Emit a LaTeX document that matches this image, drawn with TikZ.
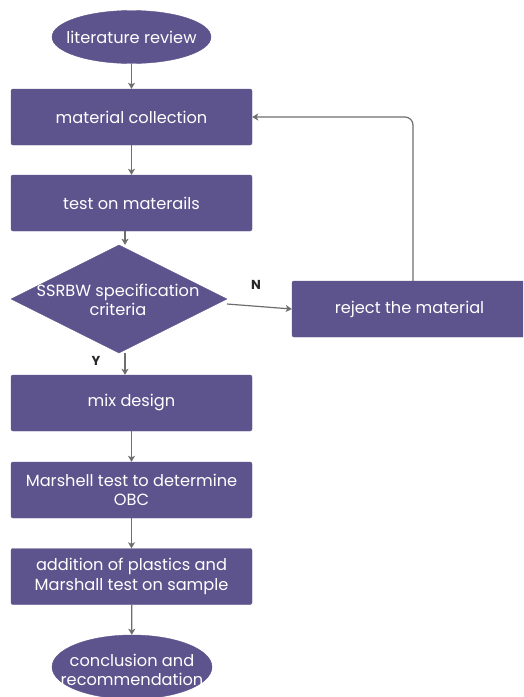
\documentclass[tikz,border=0pt]{standalone}
\usepackage{fontspec}
\setmainfont{Poppins}
\usetikzlibrary{shapes.geometric,arrows.meta}
\definecolor{boxfill}{RGB}{94,84,141}
\definecolor{arrgray}{RGB}{110,110,110}
\definecolor{lblcol}{RGB}{40,40,40}
\tikzset{
  base/.style={fill=boxfill, draw=boxfill, text=white, font=\fontsize{16.2}{19.5}\selectfont, align=center, inner sep=0pt},
  procbox/.style={base, rectangle, rounded corners=2pt, minimum width=241pt, minimum height=56pt},
  termshape/.style={fill=boxfill, draw=boxfill, ellipse, inner sep=0pt, minimum width=159pt, minimum height=53pt},
  decbox/.style={fill=boxfill, draw=boxfill, diamond, inner sep=0pt, minimum width=216pt, minimum height=108pt},
  overtext/.style={text=white, font=\fontsize{16.2}{19.5}\selectfont, align=center, inner sep=0pt},
  arr/.style={draw=arrgray, line width=1.2pt, -{Stealth[length=6pt,width=7pt,inset=1.5pt]}},
  lbl/.style={text=lblcol, font=\fontsize{13}{15}\selectfont\bfseries, inner sep=0pt}
}
\begin{document}
\begin{tikzpicture}[x=1pt,y=-1pt]
\useasboundingbox (0,0) rectangle (523,697);
\clip (0,0) rectangle (523,697);
\fill[white] (0,0) rectangle (523,697);
\node[termshape] (lit) at (131.5,37) {};
\node[overtext] (litt) at (lit.center) {literature review};
\node[procbox] (mc) at (131.5,117) {material collection};
\node[procbox] (tm) at (131.5,203) {test on materails};
\node[decbox] (dia) at (119,299) {};
\node[overtext] (diat) at (118,300) {SSRBW specification\\criteria};
\node[procbox, minimum width=235pt] (rej) at (409.5,309) {reject the material};
\node[procbox] (md) at (131.5,403) {mix design};
\node[procbox] (ms) at (131.5,490) {Marshell test to determine\\OBC};
\node[procbox] (ap) at (131.5,576.5) {addition of plastics and\\Marshall test on sample};
\node[termshape, minimum width=160pt, minimum height=64pt] (conc) at (132,667) {};
\node[overtext] (conct) at (132,670) {conclusion and\\recommendation};
\coordinate (c1) at (125,0);
\coordinate (fb) at (413,117);
\coordinate (dout) at (227,304);
\draw[arr] (lit) -- (mc);
\draw[arr] (mc) -- (tm);
\draw[arr] (tm.south -| c1) -- (c1 |- dia.north);
\draw[arr] (dout) -- (rej.west);
\draw[arr, rounded corners=8pt] (rej.north -| fb) -- (fb) -- (mc.east);
\draw[arr] (c1 |- dia.south) -- (c1 |- md.north);
\draw[arr] (md) -- (ms);
\draw[arr] (ms) -- (ap);
\draw[arr] (ap) -- (conc);
\node[lbl] (nl) at (256,285) {N};
\node[lbl] (yl) at (96,361) {Y};
\end{tikzpicture}
\end{document}
